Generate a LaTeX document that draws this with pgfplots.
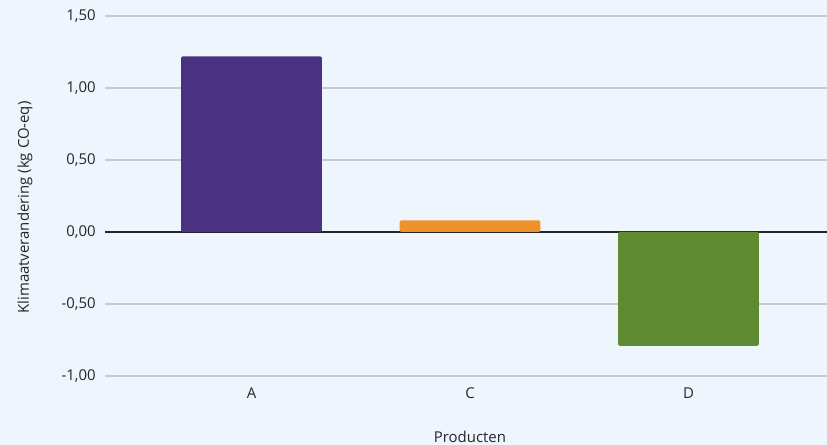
\documentclass[border=0pt]{standalone}
\usepackage{fontspec}
\setmainfont{Open Sans}
\usepackage{pgfplots}
\pgfplotsset{compat=1.18}

\definecolor{bgblue}{HTML}{EEF5FD}
\definecolor{barA}{HTML}{4A3282}
\definecolor{barC}{HTML}{EF922A}
\definecolor{barD}{HTML}{5E8B32}
\definecolor{gridgray}{HTML}{C5CAD0}
\definecolor{txt}{HTML}{262626}

\begin{document}
\begin{tikzpicture}
% page background (1px = 0.75pt)
\fill[bgblue] (-78.75pt,-51.75pt) rectangle (541.5pt,282pt);
\path[use as bounding box] (-78.75pt,-51.75pt) rectangle (541.5pt,282pt);
\begin{axis}[
  scale only axis,
  width=541.5pt, height=270pt,
  ybar, bar width=0.645,
  every axis plot/.append style={bar shift=0pt, draw=none},
  xmin=-0.6705, xmax=2.634,
  ymin=-1, ymax=1.5,
  ytick={-1,-0.5,0,0.5,1,1.5},
  xtick={0,1,2},
  xticklabels={A,C,D},
  axis line style={draw=none},
  tick style={draw=none},
  major tick length=0pt,
  ymajorgrids,
  grid style={gridgray, line width=0.9pt},
  extra y ticks={0},
  extra y tick labels={},
  extra y tick style={grid style={black!85, line width=0.9pt}},
  /pgf/number format/.cd, fixed, fixed zerofill, precision=2, use comma, assume math mode=true,
  /pgfplots/.cd,
  yticklabel style={font=\fontsize{11.2}{13}\selectfont, text=txt, xshift=-3.5pt},
  xticklabel style={font=\fontsize{11.2}{13}\selectfont, text=txt, yshift=-5.5pt},
  xlabel={Producten},
  ylabel={Klimaatverandering (kg CO-eq)},
  every axis x label/.style={at={(axis description cs:0.5055,0)}, anchor=center, yshift=-45.75pt, font=\fontsize{11.2}{13}\selectfont, text=txt},
  every axis y label/.style={at={(axis description cs:-0.1108,0.468)}, rotate=90, anchor=center, font=\fontsize{11.2}{13}\selectfont, text=txt},
]
\addplot[fill=barA, rounded corners=1.5pt] coordinates {(0,1.22)};
\addplot[fill=barC, rounded corners=1.5pt] coordinates {(1,0.08)};
\addplot[fill=barD, rounded corners=1.5pt] coordinates {(2,-0.79)};
\end{axis}
\end{tikzpicture}
\end{document}
